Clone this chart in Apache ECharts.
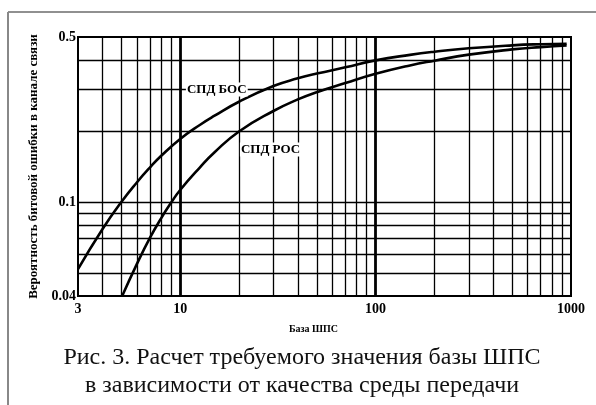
<!DOCTYPE html>
<html>
<head>
<meta charset="utf-8">
<script src="https://cdn.jsdelivr.net/npm/echarts@6/dist/echarts.min.js"></script>
<style>
html,body{margin:0;padding:0;background:#fff;}
#c{width:596px;height:405px;}
</style>
</head>
<body>
<div id="c"></div>
<script>
// ---- data ----
var xTickLabels = [3, 10, 100, 1000];
var yTickLabels = [0.04, 0.1, 0.5];
var xGridMinor = [4, 5, 6, 7, 8, 9, 20, 30, 40, 50, 60, 70, 80, 90, 200, 300, 400, 500, 600, 700, 800, 900];
var xGridMajor = [10, 100];
var yGridMinor = [0.05, 0.06, 0.07, 0.08, 0.09, 0.1, 0.2, 0.3, 0.4];

var bosX = [3, 4, 5, 6, 7, 8, 10, 12.6, 15, 20, 30, 40, 50, 70, 100, 150, 200, 300, 500, 700, 950];
var bosY = [0.052, 0.0767, 0.1, 0.121, 0.140, 0.157, 0.185, 0.212, 0.232, 0.266, 0.31, 0.334, 0.35, 0.372, 0.398, 0.42, 0.433, 0.448, 0.461, 0.466, 0.468];

var rocX = [5.05, 6, 7, 8, 9, 10, 12.6, 15, 20, 30, 40, 50, 70, 100, 150, 200, 300, 500, 700, 950];
var rocY = [0.04, 0.0546, 0.0705, 0.0855, 0.0995, 0.1125, 0.140, 0.1625, 0.199, 0.243, 0.272, 0.292, 0.319, 0.349, 0.379, 0.397, 0.421, 0.443, 0.453, 0.46];

var seriesNames = ['СПД БОС', 'СПД РОС'];
var labelPos = [[15.4, 0.3], [29.0, 0.167]];

var xAxisName = 'База ШПС';
var yAxisName = 'Вероятность битовой ошибки в канале связи';
var captionLines = ['Рис. 3. Расчет требуемого значения базы ШПС', 'в зависимости от качества среды передачи'];

// ---- chart ----
function zip(xs, ys){ return xs.map(function(x,i){ return [x, ys[i]]; }); }
var serif = '"Liberation Serif", "DejaVu Serif", serif';

var gridLines = [];
xGridMinor.forEach(function(v){ gridLines.push({xAxis: v}); });
xGridMajor.forEach(function(v){ gridLines.push({xAxis: v, lineStyle: {width: 2.8}}); });
yGridMinor.forEach(function(v){ gridLines.push({yAxis: v}); });

function curveLabel(i){
  return {
    silent: true,
    symbol: 'circle',
    symbolSize: 0,
    animation: false,
    data: [{coord: labelPos[i], name: seriesNames[i]}],
    label: {
      show: true, position: 'inside', formatter: '{b}',
      color: '#000', fontFamily: serif, fontWeight: 'bold', fontSize: 13,
      backgroundColor: '#fff', padding: [1, 1, 0, 1]
    }
  };
}

var chart = echarts.init(document.getElementById('c'), null, {renderer: 'canvas'});
chart.setOption({
  animation: false,
  backgroundColor: '#fff',
  grid: {left: 78, right: 25, top: 37, bottom: 109, show: true, borderColor: '#000', borderWidth: 2, backgroundColor: 'transparent'},
  xAxis: {
    type: 'log', logBase: 10, min: 3, max: 1000,
    name: xAxisName, nameLocation: 'middle', nameGap: 28,
    nameTextStyle: {fontFamily: serif, fontWeight: 'bold', fontSize: 10, color: '#000', padding: [0, 22, 0, 0]},
    axisLine: {show: true, lineStyle: {color: '#000', width: 2}},
    axisTick: {show: false},
    splitLine: {show: false},
    minorTick: {show: false},
    axisLabel: {customValues: xTickLabels, formatter: function(v){ return String(Math.round(v)); }, margin: 6,
      fontFamily: serif, fontWeight: 'bold', fontSize: 14, color: '#000', showMinLabel: true, showMaxLabel: true}
  },
  yAxis: {
    type: 'log', logBase: 10, min: 0.04, max: 0.5,
    name: yAxisName, nameLocation: 'middle', nameGap: 29, nameRotate: 90,
    nameTextStyle: {fontFamily: serif, fontWeight: 'bold', fontSize: 13, color: '#000'},
    axisLine: {show: true, lineStyle: {color: '#000', width: 2}},
    axisTick: {show: false},
    splitLine: {show: false},
    minorTick: {show: false},
    axisLabel: {customValues: yTickLabels, formatter: function(v){ return String(parseFloat(v.toPrecision(3))); }, margin: 2,
      fontFamily: serif, fontWeight: 'bold', fontSize: 14, color: '#000', showMinLabel: true, showMaxLabel: true}
  },
  series: [
    {
      type: 'line', data: [], silent: true, z: 1,
      markLine: {
        silent: true, symbol: ['none', 'none'], animation: false,
        label: {show: false},
        lineStyle: {color: '#000', width: 1.3, type: 'solid'},
        emphasis: {disabled: true},
        data: gridLines
      }
    },
    {
      name: seriesNames[0], type: 'line', z: 3,
      data: zip(bosX, bosY), showSymbol: false, smooth: 0.5,
      lineStyle: {color: '#000', width: 2.6},
      markPoint: curveLabel(0)
    },
    {
      name: seriesNames[1], type: 'line', z: 3,
      data: zip(rocX, rocY), showSymbol: false, smooth: 0.5,
      lineStyle: {color: '#000', width: 2.6},
      markPoint: curveLabel(1)
    }
  ],
  graphic: [
    {type: 'line', silent: true, shape: {x1: 8, y1: 12, x2: 596, y2: 12}, style: {stroke: '#222', lineWidth: 1.2}},
    {type: 'line', silent: true, shape: {x1: 8, y1: 12, x2: 8, y2: 405}, style: {stroke: '#888', lineWidth: 2}},
    {type: 'text', silent: true, x: 302, y: 358, style: {text: captionLines[0], fill: '#111', font: '24px ' + serif, textAlign: 'center', textVerticalAlign: 'middle'}},
    {type: 'text', silent: true, x: 302, y: 386, style: {text: captionLines[1], fill: '#111', font: '24px ' + serif, textAlign: 'center', textVerticalAlign: 'middle'}}
  ]
});
</script>
</body>
</html>
